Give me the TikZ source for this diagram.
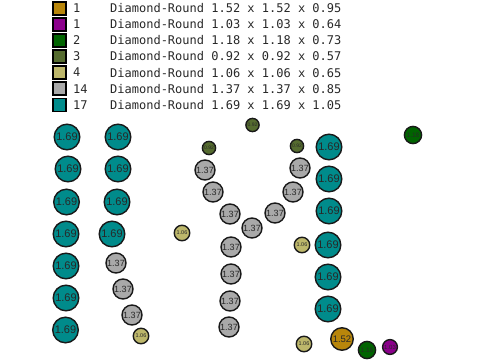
\documentclass[tikz,border=0pt]{standalone}
\usepackage{fontspec}
\setmainfont{Liberation Sans}
\setmonofont{DejaVu Sans Mono}
\definecolor{cgold}{RGB}{184,134,11}
\definecolor{cmag}{RGB}{139,0,139}
\definecolor{cdgreen}{RGB}{0,100,0}
\definecolor{colive}{RGB}{85,107,47}
\definecolor{ckhaki}{RGB}{189,183,107}
\definecolor{cgray}{RGB}{169,169,169}
\definecolor{cteal}{RGB}{0,139,139}
\definecolor{ctext}{RGB}{40,40,40}
\tikzset{
  ball/.style={circle, draw=black!90, line width=1.4pt, inner sep=0pt, text=ctext},
  sA/.style={ball, fill=cteal, minimum size=25.6pt, font=\fontsize{11}{11}\selectfont},
  sB/.style={ball, fill=cgray, minimum size=20pt, font=\fontsize{9}{9}\selectfont},
  sC/.style={ball, fill=ckhaki, minimum size=15.5pt, font=\fontsize{5.5}{5.5}\selectfont},
  sD/.style={ball, fill=colive, minimum size=13.2pt, font=\fontsize{5}{5}\selectfont},
  sE/.style={ball, fill=cgold, minimum size=22.5pt, font=\fontsize{9.5}{9.5}\selectfont},
  sF/.style={ball, fill=cdgreen, minimum size=17.2pt, font=\fontsize{6.5}{6.5}\selectfont},
  sG/.style={ball, fill=cmag, minimum size=14.8pt, font=\fontsize{6}{6}\selectfont},
  legsq/.style={rectangle, draw=black, line width=1.4pt, minimum size=13pt, inner sep=0pt},
  legtxt/.style={anchor=west, inner sep=0pt, text=ctext, font=\ttfamily\fontsize{12}{12}\selectfont},
}
\begin{document}
\begin{tikzpicture}[x=1pt,y=-1pt]
\useasboundingbox (0,0) rectangle (480,360);
% legend
\foreach \c/\n/\t [count=\i from 0] in {cgold/1/{1.52 x 1.52 x 0.95},cmag/1/{1.03 x 1.03 x 0.64},cdgreen/2/{1.18 x 1.18 x 0.73},colive/3/{0.92 x 0.92 x 0.57},ckhaki/4/{1.06 x 1.06 x 0.65},cgray/14/{1.37 x 1.37 x 0.85},cteal/17/{1.69 x 1.69 x 1.05}}{
  \node[legsq, fill=\c] (lsq\i) at (59.5,{8.3+16.07*\i}) {};
  \node[legtxt] (lcnt\i) at (73,{8.3+16.07*\i}) {\n};
  \node[legtxt] (ltxt\i) at (110,{8.3+16.07*\i}) {Diamond-Round \t};
}
% column 1
\node[sA] (a1) at (67,137) {1.69};
\node[sA] (a2) at (68,169) {1.69};
\node[sA] (a3) at (66.5,202) {1.69};
\node[sA] (a4) at (66,234) {1.69};
\node[sA] (a5) at (66,266) {1.69};
\node[sA] (a6) at (66,298) {1.69};
\node[sA] (a7) at (65.5,330) {1.69};
% column 2
\node[sA] (b1) at (118,137) {1.69};
\node[sA] (b2) at (118,169) {1.69};
\node[sA] (b3) at (117,202) {1.69};
\node[sA] (b4) at (112,234) {1.69};
\node[sB] (b5) at (116,263) {1.37};
\node[sB] (b6) at (123,289) {1.37};
\node[sB] (b7) at (132,315) {1.37};
\node[sC] (b8) at (141,336) {1.06};
% Y shape
\node[sD] (d1) at (252.5,125) {0.92};
\node[sD] (d2) at (209,148) {0.92};
\node[sD] (d3) at (297,146) {0.92};
\node[sB] (g1) at (205,170) {1.37};
\node[sB] (g2) at (213,192) {1.37};
\node[sB] (g3) at (230,214) {1.37};
\node[sB] (g4) at (252,228) {1.37};
\node[sB] (g5) at (275,213) {1.37};
\node[sB] (g6) at (293,192) {1.37};
\node[sB] (g7) at (300,168) {1.37};
\node[sB] (g8) at (231,247) {1.37};
\node[sB] (g9) at (231,274) {1.37};
\node[sB] (g10) at (230,301) {1.37};
\node[sB] (g11) at (229,327) {1.37};
\node[sC] (k1) at (182,233) {1.06};
% right column
\node[sA] (r1) at (329,147) {1.69};
\node[sA] (r2) at (329,179) {1.69};
\node[sA] (r3) at (329,211) {1.69};
\node[sA] (r4) at (328,245) {1.69};
\node[sA] (r5) at (328,277) {1.69};
\node[sA] (r6) at (328,309) {1.69};
\node[sC] (k2) at (302,245) {1.06};
\node[sC] (k3) at (304,344) {1.06};
\node[sE] (o1) at (342,339) {1.52};
\node[sF] (f1) at (367,350) {1.18};
\node[sG] (m1) at (390,347) {1.03};
\node[sF] (f2) at (413,135) {1.18};
\end{tikzpicture}
\end{document}
